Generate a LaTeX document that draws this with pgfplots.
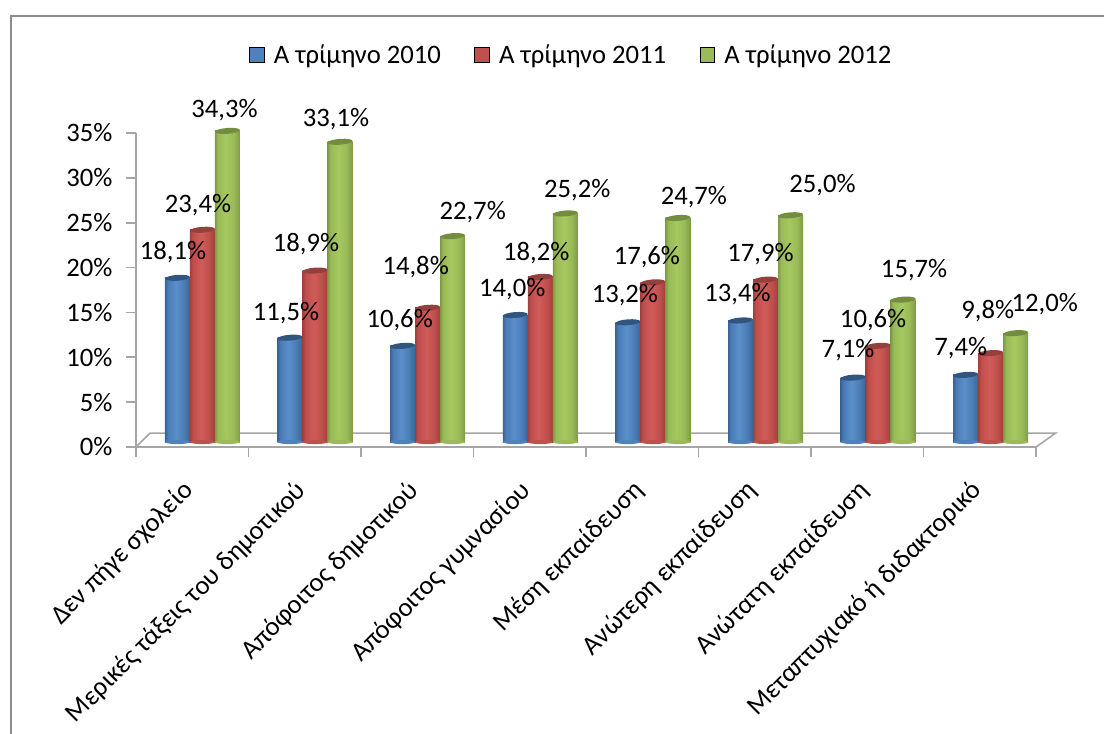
\documentclass[border=0pt]{standalone}
\usepackage{pgfplots}
\pgfplotsset{compat=1.18}
\usepackage{pgfplotstable}
\usepackage{fontspec}
\setmainfont{Carlito}
\definecolor{axgray}{HTML}{A6A6A6}
\definecolor{framegray}{HTML}{8C8C8C}
\definecolor{bdark}{HTML}{3A6497}\definecolor{bmid}{HTML}{5B8FCB}\definecolor{btop}{HTML}{31557F}\definecolor{bleg}{HTML}{4F81BD}
\definecolor{bside}{HTML}{4B7CB6}
\definecolor{rdark}{HTML}{A23F3C}\definecolor{rmid}{HTML}{D05C58}\definecolor{rtop}{HTML}{95403C}\definecolor{rleg}{HTML}{C0504D}
\definecolor{rside}{HTML}{BF4F4C}
\definecolor{gdark}{HTML}{7F9A45}\definecolor{gmid}{HTML}{A6C85F}\definecolor{gtop}{HTML}{738D3F}\definecolor{gleg}{HTML}{9BBB59}
\definecolor{gside}{HTML}{99BA57}
\pgfdeclarehorizontalshading{cylb}{100bp}{color(0bp)=(bdark); color(25bp)=(bdark); color(31bp)=(bside); color(47bp)=(bmid); color(63bp)=(bside); color(75bp)=(bdark); color(100bp)=(bdark)}
\pgfdeclarehorizontalshading{cylr}{100bp}{color(0bp)=(rdark); color(25bp)=(rdark); color(31bp)=(rside); color(47bp)=(rmid); color(63bp)=(rside); color(75bp)=(rdark); color(100bp)=(rdark)}
\pgfdeclarehorizontalshading{cylg}{100bp}{color(0bp)=(gdark); color(25bp)=(gdark); color(31bp)=(gside); color(47bp)=(gmid); color(63bp)=(gside); color(75bp)=(gdark); color(100bp)=(gdark)}
\pgfplotstableread{
i blue red green
0 18.1 23.4 34.3
1 11.5 18.9 33.1
2 10.6 14.8 22.7
3 14.0 18.2 25.2
4 13.2 17.6 24.7
5 13.4 17.9 25.0
6 7.1 10.6 15.7
7 7.4 9.8 12.0
}\bars
\pgfplotstableread{
i v dx dy
0 18.1 -4.5 26
1 11.5 -4 25
2 10.6 -3 26
3 14.0 -3 26
4 13.2 -3 27
5 13.4 -3 26
6 7.1 -5 27
7 7.4 -5 27
}\lblue
\pgfplotstableread{
i v dx dy
0 23.4 -4.5 25
1 18.9 -9 26
2 14.8 -12 41
3 18.2 -4 24
4 17.6 -6 25
5 17.9 -5 26
6 10.6 -5 26
7 9.8 -3 42
}\lred
\pgfplotstableread{
i v dx dy
0 34.3 -3 21
1 33.1 -4 23
2 22.7 20 24
3 25.2 12 23
4 24.7 16 21
5 25.0 32 30
6 15.7 11 29
7 12.0 29 29
}\lgreen
\pgfdeclareplotmark{cyltop}{\pgfpathellipse{\pgfqpoint{0pt}{0pt}}{\pgfqpoint{9.3pt}{0.7pt}}{\pgfqpoint{-0.2pt}{2.2pt}}\pgfusepathqfill}
\pgfdeclareplotmark{cylbase}{\pgfpathellipse{\pgfqpoint{0pt}{0pt}}{\pgfqpoint{9.3pt}{0pt}}{\pgfqpoint{0pt}{1.6pt}}\pgfusepathqfill}
\newcommand{\cyl}[5]{% column, offset, shading, base, top
  \pgfplotsinvokeforeach{0,...,7}{%
  \addplot[ybar, bar width=18.75pt, bar shift=0pt, draw=none, shading=#3, forget plot,
      skip coords between index={0}{##1},
      skip coords between index={\numexpr##1+1\relax}{8}]
    table[x expr=\thisrow{i}+#2, y=#1] {\bars};
  }
  \addplot[only marks, mark=cylbase, mark options={fill=#4, draw=none}, forget plot]
    table[x expr=\thisrow{i}+#2, y expr=0] {\bars};
  \addplot[only marks, mark=cyltop, mark options={fill=#5, draw=none}, forget plot]
    table[x expr=\thisrow{i}+#2, y=#1] {\bars};
}
\newcommand{\lab}[2]{%
  \addplot[only marks, mark=none, forget plot,
    visualization depends on={\thisrow{dx} \as \ldx},
    visualization depends on={\thisrow{dy} \as \ldy},
    point meta=\thisrow{v},
    nodes near coords={\pgfmathprintnumber[fixed,fixed zerofill,precision=1,use comma,assume math mode=true]{\pgfplotspointmeta}\%},
    every node near coord/.append style={anchor=center, inner sep=0pt, font=\fontsize{20}{20}\selectfont, text=black,
      xshift=\ldx*0.75pt, yshift=\ldy*0.75pt}]
    table[x expr=\thisrow{i}+#2, y=v] {#1};
}
\begin{document}
\begin{tikzpicture}[x=1pt,y=1pt]
\useasboundingbox (0,0) rectangle (828,549.75);
\begin{scope}
\clip (0,0) rectangle (828,549.75);
\draw[framegray, line width=1.5pt] (8.6,-5) -- (8.6,537.5) -- (835,537.5);
\end{scope}
% frame axis: percentage scale and categories
\begin{axis}[
  at={(102pt,214.5pt)}, anchor=south west, scale only axis, width=675pt, height=235.5pt,
  xmin=-0.5, xmax=7.5, ymin=0, ymax=35, clip=false,
  axis y line=left, axis x line=bottom, axis line style={axgray, line width=1.2pt, -},
  ytick={0,5,...,35},
  yticklabel={\pgfmathprintnumber[assume math mode=true]{\tick}\%},
  yticklabel style={font=\fontsize{20}{20}\selectfont, text=black, inner sep=1pt, xshift=-9pt},
  xtick={-0.5,0.5,...,7.5},
  x tick label as interval,
  xticklabels={Δεν πήγε σχολείο, Μερικές τάξεις του δημοτικού, Απόφοιτος δημοτικού, Απόφοιτος γυμνασίου, Μέση εκπαίδευση, Ανώτερη εκπαίδευση, Ανώτατη εκπαίδευση, Μεταπτυχιακό ή διδακτορικό},
  xticklabel style={font=\fontsize{20}{20}\selectfont, text=black, rotate=45, anchor=north east, inner sep=1pt, xshift=-16pt, yshift=-4.5pt},
  tick style={axgray, line width=1.2pt},
  tick align=outside, major tick length=7.5pt,
]
\draw[axgray, line width=1.2pt] (axis cs:-0.5,0) -- (axis cs:-0.375,1.55) -- (axis cs:7.675,1.55) -- (axis cs:7.5,0);
\end{axis}
% bars axis: the floor is raised as in the 3-D reference
\begin{axis}[
  at={(102pt,214.5pt)}, anchor=south west, scale only axis, width=675pt, height=235.5pt,
  xmin=-0.59, xmax=7.402, ymin=-0.551, ymax=34.07, clip=false,
  hide axis,
  legend style={at={(0.484,1.248)}, anchor=center, draw=none, fill=none, legend columns=3,
    font=\fontsize{20}{20}\selectfont, /tikz/every odd column/.style={column sep=5pt}, /tikz/every even column/.style={column sep=23pt}},
  legend image code/.code={\fill[#1] (0pt,-5.6pt) rectangle (11.2pt,5.6pt);},
]
\cyl{blue}{-0.222}{cylb}{bleg}{btop}
\cyl{red}{0}{cylr}{rleg}{rtop}
\cyl{green}{0.222}{cylg}{gleg}{gtop}
\addlegendimage{fill=bleg}\addlegendentry{Α τρίμηνο 2010}
\addlegendimage{fill=rleg}\addlegendentry{Α τρίμηνο 2011}
\addlegendimage{fill=gleg}\addlegendentry{Α τρίμηνο 2012}
\lab{\lblue}{-0.222}
\lab{\lred}{0}
\lab{\lgreen}{0.222}
\end{axis}
\end{tikzpicture}
\end{document}
